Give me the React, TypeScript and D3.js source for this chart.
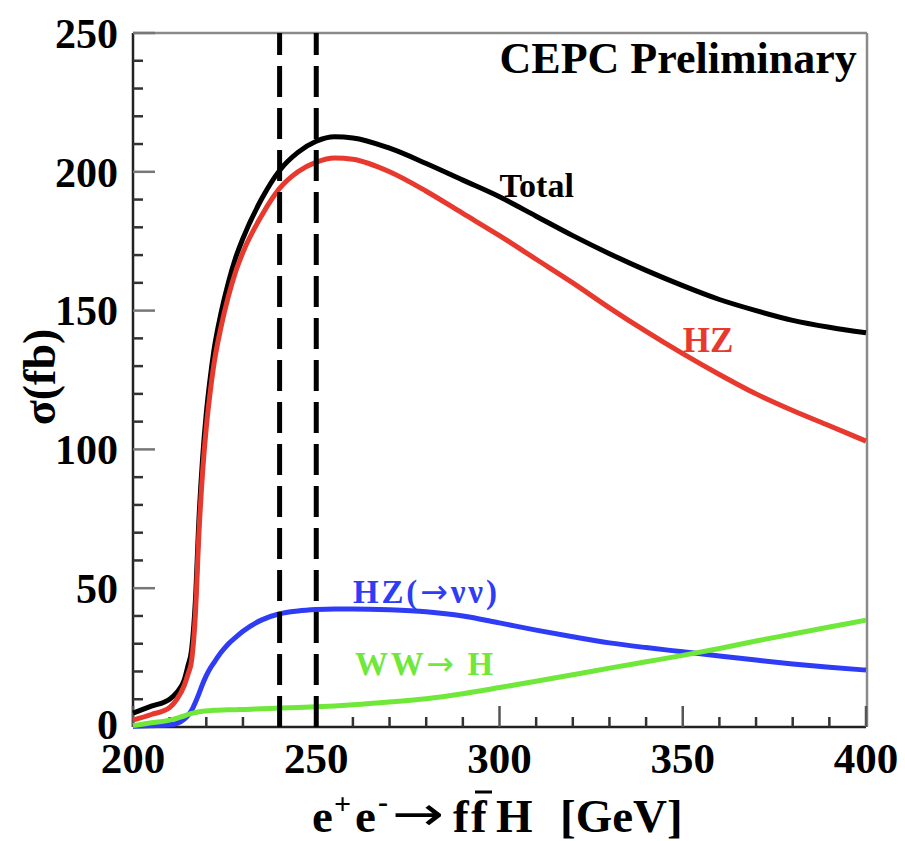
import React from "react";
import * as d3 from "d3";

// sqrt(s) in GeV
const energy = [200, 205, 210, 212, 214, 215, 216, 217, 218, 219, 220, 221, 222, 224, 226, 228, 230, 235, 240, 245, 250, 255, 260, 270, 280, 290, 300, 310, 320, 330, 340, 350, 360, 370, 380, 390, 400];

const total = [5, 7.5, 10, 12.5, 17, 22, 28, 45, 75, 97, 113, 125, 135, 149, 160, 169, 176, 190, 200.5, 207, 211, 212.6, 212.2, 208.5, 203, 197, 191, 184, 177, 170.5, 164.5, 159, 154, 150, 146.5, 144, 142];
const hz = [2.5, 4.5, 7, 10, 15, 19, 24, 40, 70, 92, 108, 120, 130, 144, 155, 164, 171, 184, 194, 200, 203.5, 205, 204.5, 200, 193, 185, 177, 168.5, 160, 151, 142.5, 134.5, 127, 120, 114, 108.5, 103];
const hzNuNu = [0.3, 0.5, 0.8, 1.3, 2.8, 4.2, 6, 8.8, 12, 15.5, 18.5, 21, 23, 26.8, 29.9, 32.3, 34.5, 38.5, 40.8, 41.8, 42.3, 42.5, 42.5, 42.2, 41.5, 40, 37.5, 34.9, 32.5, 30.3, 28.6, 27.1, 25.6, 24.1, 22.7, 21.5, 20.5];
const wwFusion = [0.5, 1.5, 2.5, 3.2, 4, 4.5, 4.9, 5.2, 5.5, 5.7, 5.8, 5.9, 6, 6.1, 6.2, 6.25, 6.3, 6.55, 6.8, 7.05, 7.3, 7.6, 8, 9, 10.2, 12, 14.2, 16.5, 18.8, 21.2, 23.5, 25.8, 28.3, 31, 33.5, 36, 38.5];

const runs = [
  { name: "Total", values: total, color: "#000000" },
  { name: "HZ", values: hz, color: "#e8392f" },
  { name: "HZnn", values: hzNuNu, color: "#2f3cf5" },
  { name: "WW", values: wwFusion, color: "#6fe83a" },
];

const xMajor = [200, 250, 300, 350, 400];
const yMajor = [0, 50, 100, 150, 200, 250];
const markers = [240, 250];

const serif = "'Liberation Serif', 'Times New Roman', serif";
const arrowFont = "'DejaVu Sans', sans-serif";

export default function App() {
  const x = d3.scaleLinear().domain([200, 400]).range([133, 866]);
  const y = d3.scaleLinear().domain([0, 250]).range([727, 33]);

  const line = (vals: number[]) =>
    d3.line<number>()
      .x((_, i) => x(energy[i]))
      .y(d => y(d))
      .curve(d3.curveMonotoneX)(vals) || "";

  const xMinor = d3.range(210, 400, 10).filter(v => !xMajor.includes(v));
  const yMinor = d3.range(10, 250, 10).filter(v => !yMajor.includes(v));

  return (
    <svg width={905} height={841} style={{ position: "absolute", left: 0, top: 0, background: "#fff" }} fontFamily={serif} fontWeight="bold">
      {/* frame */}
      <line x1={x(200)} x2={x(400) + 1} y1={y(250)} y2={y(250)} stroke="#8a8a8a" strokeWidth={2.5} />
      <line x1={x(400) + 1} x2={x(400) + 1} y1={y(250)} y2={y(0)} stroke="#8a8a8a" strokeWidth={2.5} />
      <line x1={x(200)} x2={x(200)} y1={y(250)} y2={y(0)} stroke="#222" strokeWidth={2.5} />
      <line x1={x(200)} x2={x(400)} y1={y(0)} y2={y(0)} stroke="#222" strokeWidth={2.5} />

      {/* y ticks */}
      {yMinor.map(v => <line key={"ym" + v} x1={x(200)} x2={x(200) + 10} y1={y(v)} y2={y(v)} stroke="#333" strokeWidth={2.5} />)}
      {yMajor.map(v => <line key={"yM" + v} x1={x(200)} x2={x(200) + 22} y1={y(v)} y2={y(v)} stroke="#777" strokeWidth={2.5} />)}
      {yMajor.map(v => (
        <text key={"yl" + v} x={118} y={y(v) - (v === 0 ? 3 : 0)} dy="0.35em" textAnchor="end" fontSize={42}>{v}</text>
      ))}

      {/* x ticks */}
      {xMinor.map(v => <line key={"xm" + v} x1={x(v)} x2={x(v)} y1={y(0)} y2={y(0) - 10} stroke="#333" strokeWidth={2.5} />)}
      {xMajor.map(v => <line key={"xM" + v} x1={x(v)} x2={x(v)} y1={y(0)} y2={y(0) - 21} stroke="#555" strokeWidth={2.5} />)}
      {xMajor.map(v => (
        <text key={"xl" + v} x={x(v)} y={773} textAnchor="middle" fontSize={43}>{v}</text>
      ))}

      {/* curves */}
      {runs.map(r => (
        <path key={r.name} d={line(r.values)} fill="none" stroke={r.color} strokeWidth={5} strokeLinejoin="round" />
      ))}

      {/* dashed markers */}
      {markers.map(v => (
        <line key={"mk" + v} x1={x(v)} x2={x(v)} y1={y(0)} y2={y(250)} stroke="#000" strokeWidth={5} strokeDasharray="31,11" />
      ))}

      {/* labels */}
      <text x={x(397.5)} y={y(235.6)} textAnchor="end" fontSize={44}>CEPC Preliminary</text>
      <text x={x(300)} y={y(191)} fontSize={34}>Total</text>
      <text x={x(350)} y={y(135)} fontSize={35} fill="#e8392f">HZ</text>
      <text x={x(260)} y={y(44.7)} fontSize={33} fill="#2f3cf5" textLength={144} lengthAdjust="spacing">
        HZ(<tspan fontFamily={arrowFont} fontWeight="normal">→</tspan>νν)
      </text>
      <text x={x(260.6)} y={y(18.7)} fontSize={33} fill="#6fe83a" textLength={138} lengthAdjust="spacing">
        WW<tspan fontFamily={arrowFont} fontWeight="normal">→</tspan> H
      </text>

      {/* axis titles */}
      <text transform={`translate(55,377) rotate(-90)`} textAnchor="middle" fontSize={46}>σ(fb)</text>
      <g fontSize={47}>
        <text x={312} y={832}>e</text>
        <text x={334} y={814} fontSize={30}>+</text>
        <text x={355} y={832}>e</text>
        <text x={378} y={812} fontSize={30}>-</text>
        <text x={392} y={830} fontFamily={arrowFont} fontWeight="normal" textLength={52} lengthAdjust="spacingAndGlyphs">→</text>
        <text x={453} y={832}>f</text>
        <text x={471} y={832}>f</text>
        <line x1={475} x2={492} y1={792} y2={792} stroke="#000" strokeWidth={3} />
        <text x={496} y={832}>H</text>
        <text x={560} y={832}>[GeV]</text>
      </g>
    </svg>
  );
}
